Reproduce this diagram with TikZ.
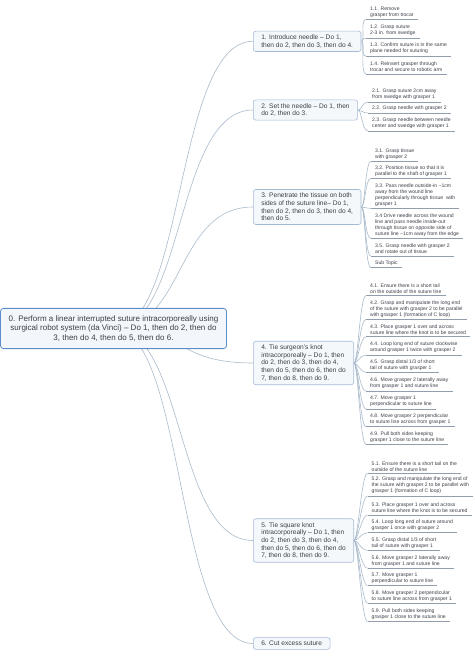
\documentclass[tikz,border=0pt]{standalone}
\usepackage{fontspec}
\setmainfont{Liberation Sans}
\usetikzlibrary{backgrounds}

\definecolor{rootline}{HTML}{5B8DCB}
\definecolor{rootfill}{HTML}{F3F7FC}
\definecolor{topicline}{HTML}{A3BAD5}
\definecolor{topicfill}{HTML}{F5F8FB}
\definecolor{branch}{HTML}{A9BACB}
\definecolor{inktext}{HTML}{3A3F47}

\tikzset{
  root/.style={draw=rootline, fill=rootfill, line width=0.8pt, rounded corners=3pt,
    align=center, text=inktext, font=\fontsize{8}{9.2}\selectfont,
    minimum width=226pt, inner ysep=7.5pt},
  topic/.style={draw=topicline, fill=topicfill, line width=0.6pt, rounded corners=2.5pt,
    align=left, anchor=west, text=inktext, font=\fontsize{6.6}{7.7}\selectfont,
    inner xsep=8pt, inner ysep=3.5pt},
  leaf/.style={anchor=south west, align=left, text=inktext,
    font=\fontsize{5.1}{6}\selectfont, inner xsep=4pt, inner ysep=1.8pt},
  link/.style={draw=branch, line width=0.6pt},
  uline/.style={draw=branch!85!black, line width=0.6pt},
}

\begin{document}
\begin{tikzpicture}[x=1pt, y=-1pt]
  \useasboundingbox (0,0) rectangle (474,656);

  % central topic
  \node[root] (root) at (113.5,328.5) {0. Perform a linear interrupted suture intracorporeally using\\
    surgical robot system (da Vinci) – Do 1, then do 2, then do\\
    3, then do 4, then do 5, then do 6.};

  % main steps
  \node[topic] (t1) at (253,41.3) {1. Introduce needle – Do 1,\\then do 2, then do 3, then do 4.};
  \node[topic] (t2) at (253,110) {2. Set the needle – Do 1, then\\do 2, then do 3.};
  \node[topic] (t3) at (253,207) {3. Penetrate the tissue on both\\sides of the suture line– Do 1,\\then do 2, then do 3, then do 4,\\then do 5.};
  \node[topic] (t4) at (253,363) {4. Tie surgeon’s knot\\intracorporeally – Do 1, then\\do 2, then do 3, then do 4,\\then do 5, then do 6, then do\\7, then do 8, then do 9.};
  \node[topic] (t5) at (253,540.5) {5. Tie square knot\\intracorporeally – Do 1, then\\do 2, then do 3, then do 4,\\then do 5, then do 6, then do\\7, then do 8, then do 9.};
  \node[topic] (t6) at (253,643.5) {6. Cut excess suture};

  % curves from the centre
  \begin{scope}[on background layer]
    \foreach \t in {t1,t2,t3,t4,t5,t6}
      \draw[link] (root.center) .. controls +(72,0) and +(-78,0) .. (\t.west);
  \end{scope}

  %step 1
  \def\g{1};
  \def\sx{366};
  \foreach \i/\y/\txt in {1/19.5/{1.1. Remove\\grasper from trocar},
      2/38/{1.2. Grasp suture\\2-3 in. from swedge},
      3/56/{1.3. Confirm suture is in the same\\plane needed for suturing},
      4/74/{1.4. Reinsert grasper through\\trocar and secure to robotic arm}}{
    \node[leaf] (s\g\i) at (\sx,\y) {\txt};
    \draw[uline] (s\g\i.south west) -- (s\g\i.south east);
    \draw[link] (t\g.east) .. controls +(4,0) and +(-6,0) .. (s\g\i.south west);
  }

  %step 2
  \def\g{2};
  \def\sx{368};
  \foreach \i/\y/\txt in {1/102/{2.1. Grasp suture 2cm away\\from swedge with grasper 1},
      2/113/{2.2. Grasp needle with grasper 2},
      3/131/{2.3. Grasp needle between needle\\center and swedge with grasper 1}}{
    \node[leaf] (s\g\i) at (\sx,\y) {\txt};
    \draw[uline] (s\g\i.south west) -- (s\g\i.south east);
    \draw[link] (t\g.east) .. controls +(4,0) and +(-6,0) .. (s\g\i.south west);
  }

  %step 3
  \def\g{3};
  \def\sx{371};
  \foreach \i/\y/\txt in {1/161.7/{3.1. Grasp tissue\\with grasper 2},
      2/178.5/{3.2. Position tissue so that it is\\parallel to the shaft of grasper 1},
      3/208.3/{3.3. Pass needle outside-in \textasciitilde1cm\\away from the wound line\\perpendicularly through tissue \ with\\grasper 1},
      4/238.3/{3.4 Drive needle across the wound\\line and pass needle inside-out\\through tissue on opposite side of\\suture line \textasciitilde1cm away from the edge},
      5/256/{3.5. Grasp needle with grasper 2\\and rotate out of tissue},
      6/267.7/{Sub Topic}}{
    \node[leaf] (s\g\i) at (\sx,\y) {\txt};
    \draw[uline] (s\g\i.south west) -- (s\g\i.south east);
    \draw[link] (t\g.east) .. controls +(4,0) and +(-6,0) .. (s\g\i.south west);
  }

  %step 4
  \def\g{4};
  \def\sx{366};
  \foreach \i/\y/\txt in {1/295.7/{4.1. Ensure there is a short tail\\on the outside of the suture line},
      2/319.3/{4.2. Grasp and manipulate the long end\\of the suture with grasper 2 to be parallel\\with grasper 1 (formation of C loop)},
      3/336.7/{4.3. Place grasper 1 over and across\\suture line where the knot is to be secured},
      4/355/{4.4. Loop long end of suture clockwise\\around grasper 1 twice with grasper 2},
      5/372.3/{4.5. Grasp distal 1/3 of short\\tail of suture with grasper 1},
      6/391/{4.6. Move grasper 2 laterally away\\from grasper 1 and suture line},
      7/409/{4.7. Move grasper 1\\perpendicular to suture line},
      8/426.7/{4.8. Move grasper 2 perpendicular\\to suture line across from grasper 1},
      9/444.3/{4.9. Pull both sides keeping\\grasper 1 close to the suture line}}{
    \node[leaf] (s\g\i) at (\sx,\y) {\txt};
    \draw[uline] (s\g\i.south west) -- (s\g\i.south east);
    \draw[link] (t\g.east) .. controls +(4,0) and +(-6,0) .. (s\g\i.south west);
  }

  %step 5
  \def\g{5};
  \def\sx{367.5};
  \foreach \i/\y/\txt in {1/473.3/{5.1. Ensure there is a short tail on the\\outside of the suture line},
      2/496/{5.2. Grasp and manipulate the long end of\\the suture with grasper 2 to be parallel with\\grasper 1 (formation of C loop)},
      3/515/{5.3. Place grasper 1 over and across\\suture line where the knot is to be secured},
      4/532.7/{5.4. Loop long end of suture around\\grasper 1 once with grasper 2},
      5/550.7/{5.5. Grasp distal 1/3 of short\\tail of suture with grasper 1},
      6/568.3/{5.6. Move grasper 2 laterally away\\from grasper 1 and suture line},
      7/585.7/{5.7. Move grasper 1\\perpendicular to suture line},
      8/603.3/{5.8. Move grasper 2 perpendicular\\to suture line across from grasper 1},
      9/621.7/{5.9. Pull both sides keeping\\grasper 1 close to the suture line}}{
    \node[leaf] (s\g\i) at (\sx,\y) {\txt};
    \draw[uline] (s\g\i.south west) -- (s\g\i.south east);
    \draw[link] (t\g.east) .. controls +(4,0) and +(-6,0) .. (s\g\i.south west);
  }

\end{tikzpicture}
\end{document}
